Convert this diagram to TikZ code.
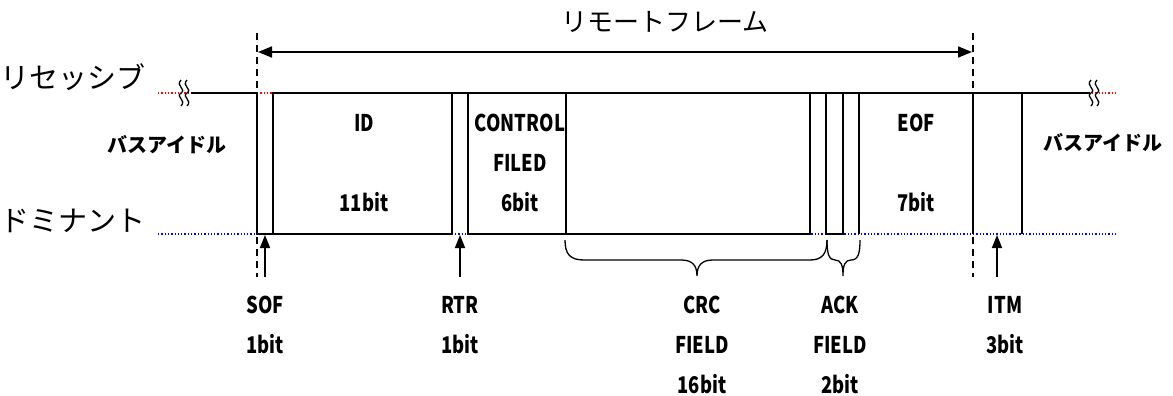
\documentclass[tikz,border=0pt]{standalone}
\usepackage{fontspec}
\setmainfont{Noto Sans CJK JP}
\usepackage{tikz}
\usetikzlibrary{arrows.meta, positioning}
\tikzstyle{sig} = [line width=1.5pt, black]
\tikzstyle{recline} = [red, line width=2.4pt, dash pattern=on 1.3pt off 2pt]
\tikzstyle{domline} = [blue, line width=2.2pt, dash pattern=on 1.3pt off 2pt]
\tikzstyle{frameline} = [line width=1.2pt, dash pattern=on 7pt off 5pt]
\tikzstyle{fieldtext} = [font=\fontsize{23}{25}\selectfont\bfseries, xscale=0.8, inner sep=0pt, text height=17pt, text depth=3pt]
\tikzstyle{leveltext} = [font=\fontsize{29}{31}\selectfont, anchor=west, inner sep=0pt]
\tikzstyle{idletext} = [font=\fontsize{20}{22}\selectfont\bfseries, inner sep=0pt]
\tikzstyle{arrow} = [line width=1.6pt, -{Triangle[length=13pt,width=10pt]}]
\begin{document}
\begin{tikzpicture}[x=1pt, y=-1pt, node distance=20pt]
    \useasboundingbox (0,0) rectangle (1173,396);

    % levels
    \draw[recline] (158,93) -- (1117,93);
    \draw[domline] (158,234) -- (1117,234);
    \node[leveltext] (rec) at (0,77) {リセッシブ};
    \node[leveltext] (dom) at (0,221) {ドミナント};

    % signal
    \draw[sig] (191,93) -- (257,93) -- (257,234) -- (452,234) -- (452,93);
    \draw[sig] (273,234) -- (273,93) -- (1090,93);
    \draw[sig] (468,93) -- (468,234) -- (810,234) -- (810,93);
    \draw[sig] (566,93) -- (566,234);
    \draw[sig] (826,93) -- (826,234) -- (843,234) -- (843,93);
    \foreach \x in {859,973,1022}
        \draw[sig] (\x,93) -- (\x,234);
    \foreach \x in {181,187,1091,1097}
        \draw[line width=1.3pt] (\x,80) .. controls (\x-6,86) and (\x+6,89) .. (\x,93)
            .. controls (\x-6,97) and (\x+6,100) .. (\x,106);

    % frame
    \draw[frameline] (257,33) -- (257,277);
    \draw[frameline] (973,33) -- (973,277);
    \coordinate (fstart) at (258,52);
    \coordinate (fend) at (972,52);
    \draw[line width=1.6pt, {Triangle[length=14pt,width=11pt]}-{Triangle[length=14pt,width=11pt]}] (fstart) -- (fend);
    \node[font=\fontsize{26}{28}\selectfont] (title) at (665,22) {リモートフレーム};

    \node[idletext] (idle1) at (167,145) {バスアイドル};
    \node[idletext] (idle2) at (1103,143) {バスアイドル};

    % fields
    \node[fieldtext] (id) at (364,124) {ID};
    \node[fieldtext, below=60pt of id] (idbits) {11bit};
    \node[fieldtext] (ctrl) at (520,124) {CONTROL};
    \node[fieldtext, below=of ctrl] (ctrl2) {FILED};
    \node[fieldtext, below=of ctrl2] (ctrlbits) {6bit};
    \node[fieldtext] (eof) at (916,124) {EOF};
    \node[fieldtext, below=60pt of eof] (eofbits) {7bit};

    % bottom labels
    \node[fieldtext] (sof) at (265,306) {SOF};
    \node[fieldtext, below=of sof] (sofbits) {1bit};
    \node[fieldtext] (rtr) at (460,306) {RTR};
    \node[fieldtext, below=of rtr] (rtrbits) {1bit};
    \node[fieldtext] (crc) at (702,306) {CRC};
    \node[fieldtext, below=of crc] (crc2) {FIELD};
    \node[fieldtext, below=of crc2] (crcbits) {16bit};
    \node[fieldtext] (ack) at (840,306) {ACK};
    \node[fieldtext, below=of ack] (ack2) {FIELD};
    \node[fieldtext, below=of ack2] (ackbits) {2bit};
    \node[fieldtext] (itm) at (1005,306) {ITM};
    \node[fieldtext, below=of itm] (itmbits) {3bit};

    % pointers
    \coordinate (softip) at (265,235);
    \coordinate (rtrtip) at (460,235);
    \coordinate (itmtip) at (997,235);
    \draw[arrow] (265,277) -- (softip);
    \draw[arrow] (460,277) -- (rtrtip);
    \draw[arrow] (997,277) -- (itmtip);

    % braces
    \draw[line width=1.3pt] (565,240) .. controls (565,254) and (570,260) .. (584,260) -- (681,260)
        .. controls (692,260) and (697,265) .. (697,276) .. controls (697,265) and (702,260) .. (713,260)
        -- (810,260) .. controls (822,260) and (827,254) .. (827,240);
    \draw[line width=1.3pt] (827,240) .. controls (827,254) and (829,260) .. (835,260)
        .. controls (841,260) and (843,265) .. (843,276) .. controls (843,265) and (845,260) .. (851,260)
        .. controls (858,260) and (860,254) .. (860,240);
\end{tikzpicture}
\end{document}
